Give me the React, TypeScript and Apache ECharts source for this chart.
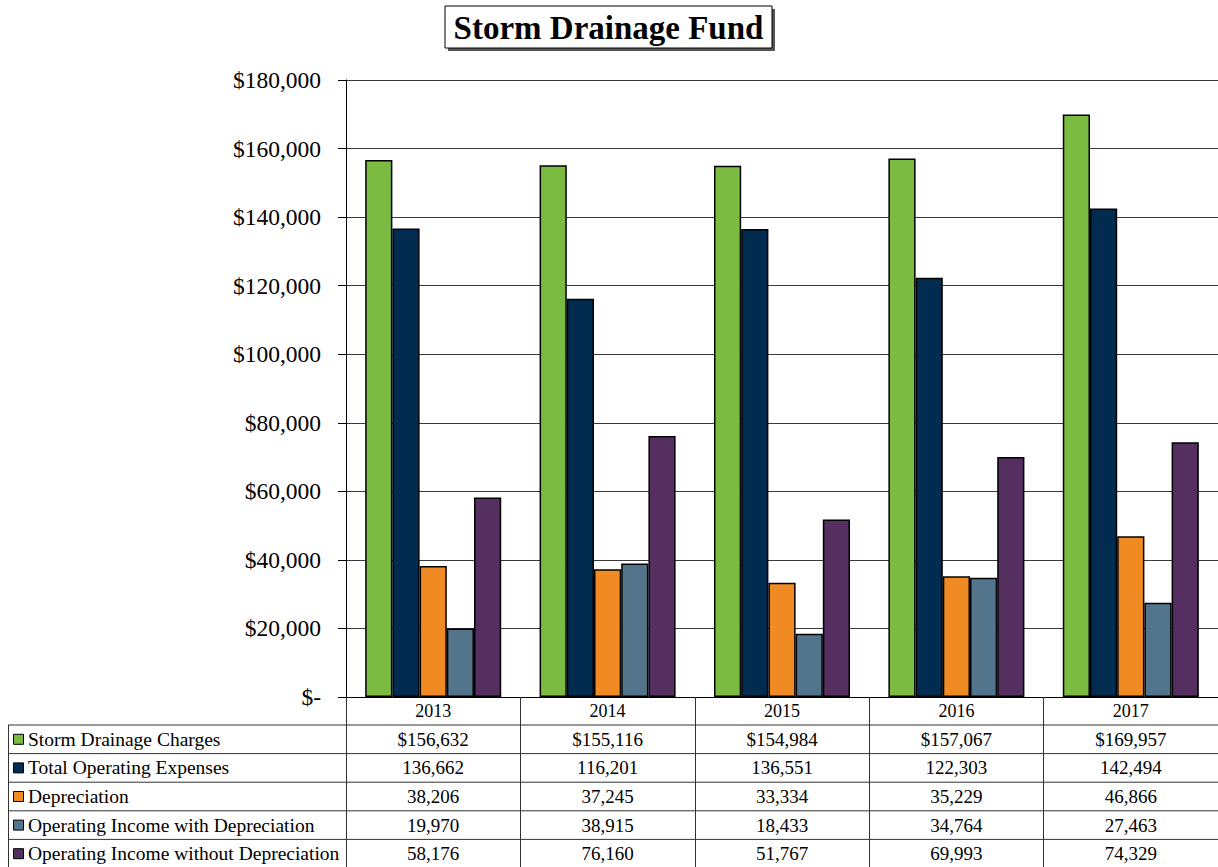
import React, { useEffect, useRef } from "react";
import * as echarts from "echarts";

const years = ["2013", "2014", "2015", "2016", "2017"];
const seriesNames = [
  "Storm Drainage Charges",
  "Total Operating Expenses",
  "Depreciation",
  "Operating Income with Depreciation",
  "Operating Income without Depreciation",
];
const stormDrainageCharges = [156632, 155116, 154984, 157067, 169957];
const totalOperatingExpenses = [136662, 116201, 136551, 122303, 142494];
const depreciation = [38206, 37245, 33334, 35229, 46866];
const incomeWithDepreciation = [19970, 38915, 18433, 34764, 27463];
const incomeWithoutDepreciation = [58176, 76160, 51767, 69993, 74329];
const colors = ["#7CBB42", "#022C4F", "#F08A22", "#52758B", "#552F60"];
const yTicks = { min: 0, max: 180000, interval: 20000 };

const FONT = '"Liberation Serif", "Times New Roman", serif';

export default function App() {
  const ref = useRef<HTMLDivElement>(null);
  useEffect(() => {
    document.body.style.margin = "0";
    const chart = echarts.init(ref.current!, null, { renderer: "svg" });
    const values = [
      stormDrainageCharges,
      totalOperatingExpenses,
      depreciation,
      incomeWithDepreciation,
      incomeWithoutDepreciation,
    ];
    const gridTop = 80;
    const gridBottomY = 697;
    const headerH = 28;
    const rowH = 28.6;
    const rowCenters = values.map((_, i) => gridBottomY + headerH + rowH * i + rowH / 2);
    const rowLines = values.map((_, i) => gridBottomY + headerH + rowH * i);

    const fmt = (v: number) => v.toLocaleString("en-US");

    const extraAxes = values.map((row, i) => ({
      type: "category",
      data: years,
      position: "bottom",
      gridIndex: 0,
      axisLine: { show: false },
      axisTick: { show: false },
      splitLine: { show: false },
      axisLabel: {
        margin: rowCenters[i] - gridBottomY,
        verticalAlign: "middle",
        fontFamily: FONT,
        fontSize: 19,
        color: "#000",
        formatter: (_v: string, idx: number) => (i === 0 ? "$" : "") + fmt(row[idx]),
      },
    }));

    const graphics: any[] = [
      { type: "rect", shape: { x: 448, y: 9, width: 327, height: 42 }, style: { fill: "#555" }, z: 10 },
      { type: "rect", shape: { x: 445, y: 6, width: 327, height: 42 }, style: { fill: "#fff", stroke: "#000", lineWidth: 1 }, z: 11 },
      {
        type: "text",
        x: 608.5,
        y: 28,
        z: 12,
        style: {
          text: "Storm Drainage Fund",
          font: `bold 33px ${FONT}`,
          fill: "#000",
          align: "center",
          verticalAlign: "middle",
        },
      },
      { type: "line", shape: { x1: 8.5, y1: rowLines[0], x2: 8.5, y2: 867 }, style: { stroke: "#333", lineWidth: 1 } },
    ];
    rowLines.forEach((y) => {
      graphics.push({ type: "line", shape: { x1: 8, y1: y, x2: 1218, y2: y }, style: { stroke: "#333", lineWidth: 1 } });
    });
    seriesNames.forEach((name, i) => {
      graphics.push({
        type: "rect",
        shape: { x: 13.5, y: rowCenters[i] - 5, width: 10, height: 10 },
        style: { fill: colors[i], stroke: "#000", lineWidth: 1 },
      });
      graphics.push({
        type: "text",
        x: 28,
        y: rowCenters[i],
        style: { text: name, font: `19.5px ${FONT}`, fill: "#000", verticalAlign: "middle" },
      });
    });

    chart.setOption({
      animation: false,
      backgroundColor: "#fff",
      grid: { left: 346, top: gridTop, width: 875, height: gridBottomY - gridTop, containLabel: false },
      xAxis: [
        {
          type: "category",
          data: years,
          position: "bottom",
          axisLine: { show: true, lineStyle: { color: "#000", width: 1 } },
          axisTick: { show: true, length: 170, lineStyle: { color: "#333", width: 1 } },
          axisLabel: {
            margin: 14,
            verticalAlign: "middle",
            fontFamily: FONT,
            fontSize: 18,
            color: "#000",
          },
          splitLine: { show: false },
        },
        ...extraAxes,
      ],
      yAxis: {
        type: "value",
        min: yTicks.min,
        max: yTicks.max,
        interval: yTicks.interval,
        axisLine: { show: true, lineStyle: { color: "#000", width: 1 } },
        axisTick: { show: true, length: 8, lineStyle: { color: "#000" } },
        splitLine: { show: true, lineStyle: { color: "#3a3a3a", width: 1 } },
        axisLabel: {
          margin: 25,
          fontFamily: FONT,
          fontSize: 23.5,
          color: "#000",
          formatter: (v: number) => (v === 0 ? "$-" : "$" + fmt(v)),
        },
      },
      series: values.map((data, i) => ({
        name: seriesNames[i],
        type: "bar",
        data,
        barGap: "0%",
        barCategoryGap: "22%",
        itemStyle: { color: colors[i], borderColor: "#000", borderWidth: 1.5 },
      })),
      graphic: graphics,
    });
    return () => chart.dispose();
  }, []);
  return <div ref={ref} style={{ width: 1218, height: 867 }} />;
}
